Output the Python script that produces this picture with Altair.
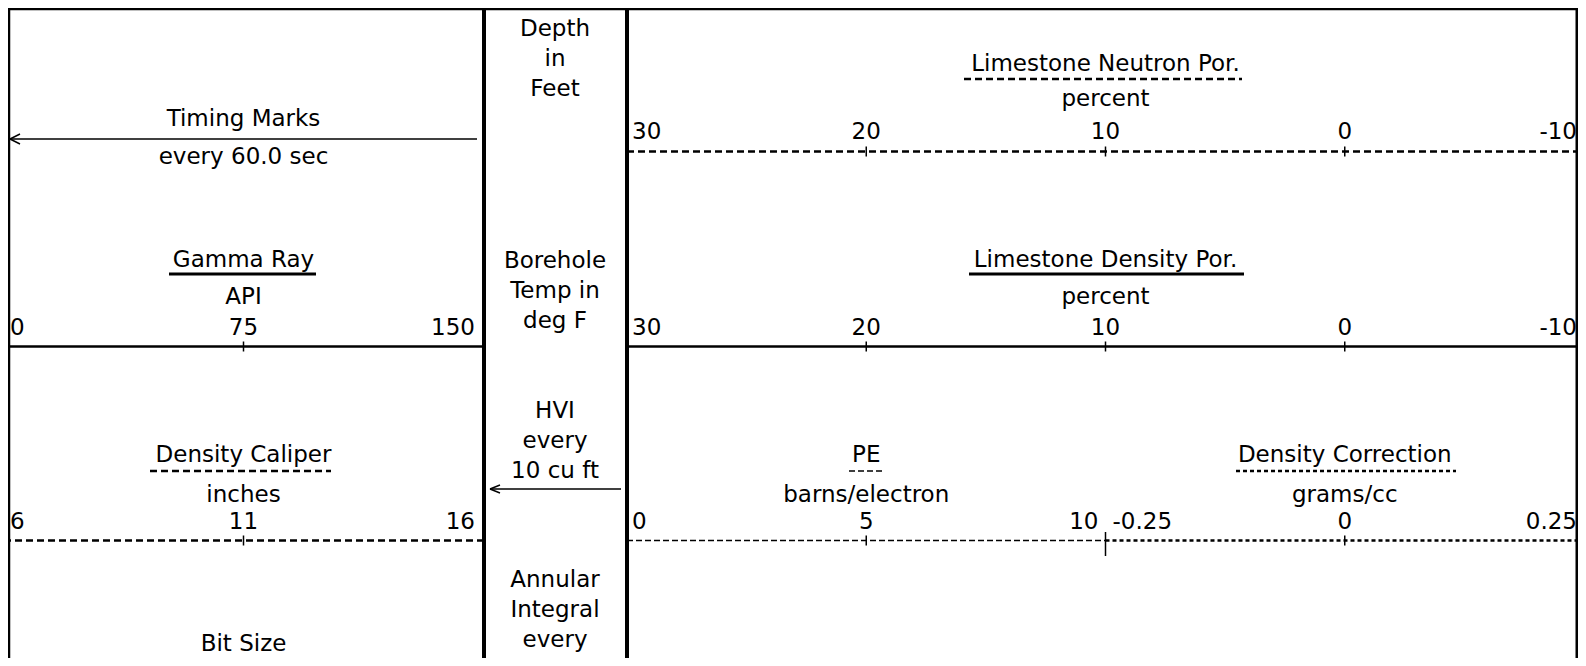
import altair as alt
import pandas as pd

# ---------------- data ----------------
neutron_title = "Limestone Neutron Por."
neutron_unit = "percent"
neutron_scale = [30, 20, 10, 0, -10]

density_por_title = "Limestone Density Por."
density_por_unit = "percent"
density_por_scale = [30, 20, 10, 0, -10]

gamma_title = "Gamma Ray"
gamma_unit = "API"
gamma_scale = [0, 75, 150]

caliper_title = "Density Caliper"
caliper_unit = "inches"
caliper_scale = [6, 11, 16]

pe_title = "PE"
pe_unit = "barns/electron"
pe_scale = [0, 5, 10]

dcorr_title = "Density Correction"
dcorr_unit = "grams/cc"
dcorr_scale = [-0.25, 0, 0.25]

timing_title = "Timing Marks"
timing_unit = "every 60.0 sec"

depth_track_blocks = [
    ["Depth", "in", "Feet"],
    ["Borehole", "Temp in", "deg F"],
    ["HVI", "every", "10 cu ft"],
    ["Annular", "Integral", "every", "10 cu ft"],
]
bit_size_title = "Bit Size"
micro_title = "Micro-normal"

# ---------------- layout / style ----------------
W, H = 1570, 650
FONT = "DejaVu Sans"
FS = 23
LEFT_RANGE = [-4, 475]
RIGHT_RANGE = [619, 1576]
SPLIT_X = (RIGHT_RANGE[0] + RIGHT_RANGE[1]) / 2
DEPTH_X = 547
LINE_H = 30

one = pd.DataFrame({"k": [0]})


def rule(x, y, x2=None, y2=None, sw=1.0, dash=None):
    kw = dict(color="black", strokeWidth=sw)
    if dash:
        kw["strokeDash"] = dash
    enc = dict(x=alt.value(x), y=alt.value(y))
    if x2 is not None:
        enc["x2"] = alt.value(x2)
    if y2 is not None:
        enc["y2"] = alt.value(y2)
    return alt.Chart(one).mark_rule(**kw).encode(**enc)


def text_at(s, x, y, align="center", **kw):
    return alt.Chart(one).mark_text(align=align, baseline="alphabetic", **kw).encode(
        x=alt.value(x), y=alt.value(y), text=alt.value(s)
    )


def curve_header(title, unit, values, rng, title_y, ul, ul_y, ul_sw, ul_dash,
                 unit_y, line_y, line_sw, line_dash, label_y,
                 first_dx=6, last_dx=-6, tick=5):
    sc = alt.Scale(domain=[values[0], values[-1]], range=rng, nice=False, zero=False)
    mid = (values[0] + values[-1]) / 2
    head = pd.DataFrame({"mid": [mid], "title": [title], "unit": [unit],
                         "lo": [values[0]], "hi": [values[-1]]})
    n = len(values)
    ticks = pd.DataFrame({
        "v": values,
        "label": [f"{v:g}" for v in values],
        "pos": ["first"] + ["mid"] * (n - 2) + ["last"],
    })
    X = lambda f: alt.X(f, scale=sc, axis=None)
    out = []
    out.append(alt.Chart(head).mark_text(align="center", baseline="alphabetic").encode(
        x=X("mid:Q"), y=alt.value(title_y), text="title:N"))
    out.append(alt.Chart(head).mark_text(align="center", baseline="alphabetic").encode(
        x=X("mid:Q"), y=alt.value(unit_y), text="unit:N"))
    out.append(rule(ul[0], ul_y, x2=ul[1], sw=ul_sw, dash=ul_dash))
    lkw = dict(color="black", strokeWidth=line_sw)
    if line_dash:
        lkw["strokeDash"] = line_dash
    out.append(alt.Chart(head).mark_rule(**lkw).encode(
        x=X("lo:Q"), x2="hi:Q", y=alt.value(line_y)))
    base = alt.Chart(ticks)
    out.append(base.transform_filter("datum.pos == 'mid'").mark_rule(
        color="black", strokeWidth=1.5).encode(
        x=X("v:Q"), y=alt.value(line_y - tick), y2=alt.value(line_y + tick)))
    out.append(base.transform_filter("datum.pos == 'first'").mark_text(
        align="left", baseline="alphabetic", dx=first_dx).encode(
        x=X("v:Q"), y=alt.value(label_y), text="label:N"))
    out.append(base.transform_filter("datum.pos == 'mid'").mark_text(
        align="center", baseline="alphabetic").encode(
        x=X("v:Q"), y=alt.value(label_y), text="label:N"))
    out.append(base.transform_filter("datum.pos == 'last'").mark_text(
        align="right", baseline="alphabetic", dx=last_dx).encode(
        x=X("v:Q"), y=alt.value(label_y), text="label:N"))
    return out


layers = []

# frame and track dividers
layers.append(rule(0, 1, x2=W, sw=2.5))
layers.append(rule(1, 0, y2=H, sw=2.5))
layers.append(rule(476, 0, y2=H, sw=4))
layers.append(rule(619, 0, y2=H, sw=4))
layers.append(rule(W - 1, 0, y2=H, sw=3))

# track 1: timing marks
gsc = alt.Scale(domain=[gamma_scale[0], gamma_scale[-1]], range=LEFT_RANGE, nice=False, zero=False)
tdf = pd.DataFrame({"mid": [(gamma_scale[0] + gamma_scale[-1]) / 2],
                    "title": [timing_title], "unit": [timing_unit]})
layers.append(alt.Chart(tdf).mark_text(align="center", baseline="alphabetic").encode(
    x=alt.X("mid:Q", scale=gsc, axis=None), y=alt.value(118), text="title:N"))
layers.append(alt.Chart(tdf).mark_text(align="center", baseline="alphabetic").encode(
    x=alt.X("mid:Q", scale=gsc, axis=None), y=alt.value(156), text="unit:N"))
layers.append(rule(2, 131, x2=469, sw=1.5))
layers.append(rule(2, 131, x2=12, y2=126, sw=1.5))
layers.append(rule(2, 131, x2=12, y2=136, sw=1.5))

# track 1: gamma ray
layers += curve_header(gamma_title, gamma_unit, gamma_scale, LEFT_RANGE,
                       title_y=259, ul=(161, 308), ul_y=266, ul_sw=3, ul_dash=None,
                       unit_y=296, line_y=338.5, line_sw=2.5, line_dash=None,
                       label_y=327, first_dx=6, last_dx=-8)

# track 1: density caliper
layers += curve_header(caliper_title, caliper_unit, caliper_scale, LEFT_RANGE,
                       title_y=454, ul=(142, 323), ul_y=463, ul_sw=2.5, ul_dash=[7, 4],
                       unit_y=494, line_y=532.5, line_sw=2.5, line_dash=[7, 4],
                       label_y=521, first_dx=6, last_dx=-8)

# track 1: bit size
layers.append(alt.Chart(pd.DataFrame({"mid": [(caliper_scale[0] + caliper_scale[-1]) / 2],
                                      "title": [bit_size_title]})).mark_text(
    align="center", baseline="alphabetic").encode(
    x=alt.X("mid:Q", scale=alt.Scale(domain=[caliper_scale[0], caliper_scale[-1]],
                                     range=LEFT_RANGE, nice=False, zero=False), axis=None),
    y=alt.value(643), text="title:N"))

# depth track
block_tops = [28, 260, 410, 579]
for blk, y0 in zip(depth_track_blocks, block_tops):
    layers.append(alt.Chart(one).mark_text(align="center", baseline="alphabetic",
                                           lineHeight=LINE_H).encode(
        x=alt.value(DEPTH_X), y=alt.value(y0), text=alt.value(blk)))

# HVI arrow
layers.append(rule(482, 481, x2=613, sw=1.5))
layers.append(rule(482, 481, x2=492, y2=477, sw=1.5))
layers.append(rule(482, 481, x2=492, y2=485, sw=1.5))

# right track: neutron porosity
layers += curve_header(neutron_title, neutron_unit, neutron_scale, RIGHT_RANGE,
                       title_y=63, ul=(956, 1234), ul_y=71, ul_sw=2.5, ul_dash=[7, 4],
                       unit_y=98, line_y=143.5, line_sw=2.5, line_dash=[7, 4],
                       label_y=131, first_dx=5, last_dx=-7)

# right track: density porosity
layers += curve_header(density_por_title, density_por_unit, density_por_scale, RIGHT_RANGE,
                       title_y=259, ul=(961, 1236), ul_y=266, ul_sw=3, ul_dash=None,
                       unit_y=296, line_y=338.5, line_sw=2.5, line_dash=None,
                       label_y=327, first_dx=5, last_dx=-7)

# right track: PE (left half)
layers += curve_header(pe_title, pe_unit, pe_scale, [RIGHT_RANGE[0], SPLIT_X],
                       title_y=454, ul=(841, 875), ul_y=463, ul_sw=1.5, ul_dash=[6, 3],
                       unit_y=494, line_y=532.5, line_sw=1.5, line_dash=[6, 3],
                       label_y=521, first_dx=5, last_dx=-7)

# right track: density correction (right half)
layers += curve_header(dcorr_title, dcorr_unit, dcorr_scale, [SPLIT_X, RIGHT_RANGE[1]],
                       title_y=454, ul=(1228, 1448), ul_y=463, ul_sw=2.5, ul_dash=[4, 3],
                       unit_y=494, line_y=532.5, line_sw=2.5, line_dash=[4, 3],
                       label_y=521, first_dx=7, last_dx=-7)

# split tick between PE and density correction
layers.append(rule(SPLIT_X, 524, y2=548, sw=1.5))

# bottom-right label, cut by the lower edge as in the reference
layers.append(text_at(micro_title, 1456, 665, fontWeight="bold", fontSize=16))

chart = (
    alt.layer(*layers)
    .resolve_scale(x="independent")
    .properties(width=W, height=H, padding=0,
                autosize=alt.AutoSizeParams(type="none"), background="white")
    .configure_view(stroke=None)
    .configure_text(font=FONT, fontSize=FS, color="black")
)

chart.save("out.html", embed_options={"renderer": "svg", "actions": False})
